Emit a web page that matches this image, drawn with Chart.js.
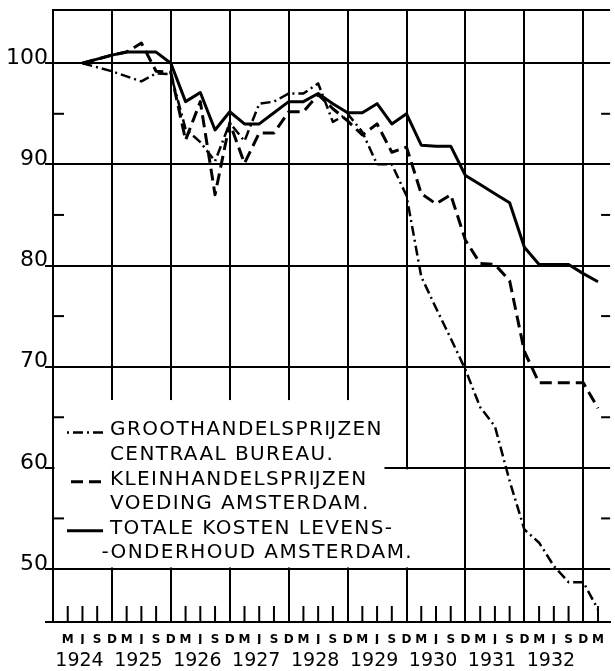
<!DOCTYPE html>
<html>
<head>
<meta charset="utf-8">
<script src="https://cdn.jsdelivr.net/npm/chart.js@4.4.1/dist/chart.umd.min.js"></script>
<style>
  html, body { margin: 0; padding: 0; background: #fff; }
</style>
</head>
<body>
<canvas id="myChart" width="615" height="671"></canvas>
<script>
// quarters from M 1924 (index 0) to M 1933 (index 36)
const quarterLabels = ['M','J','S','D','M','J','S','D','M','J','S','D','M','J','S','D',
  'M','J','S','D','M','J','S','D','M','J','S','D','M','J','S','D','M','J','S','D','M'];
const years = ['1924','1925','1926','1927','1928','1929','1930','1931','1932'];
const gridTicks = [50, 60, 70, 80, 90, 100];
const minorTicks = [55, 65, 75, 85, 95];

// values from J 1924 (quarter 1) to M 1933 (quarter 36)
const groothandel = [100, 99.6, 99.2, 98.7, 98.2, 99.0, 98.9, 93.5, 92.2, 90.3, 94.1, 92.3,
  96.0, 96.2, 97.0, 97.0, 98.0, 94.2, 95.0, 93.2, 90.0, 90.0, 86.9, 78.9,
  75.8, 72.8, 69.7, 66.0, 64.1, 58.7, 53.9, 52.6, 50.3, 48.7, 48.7, 46.0];
const kleinhandel = [100, 100.4, 100.8, 101.1, 102.0, 99.2, 99.1, 92.4, 96.2, 87.0, 94.1, 90.1,
  93.1, 93.1, 95.2, 95.2, 96.9, 95.5, 94.3, 92.9, 94.0, 91.2, 91.7, 87.1,
  86.1, 87.0, 82.5, 80.2, 80.1, 78.5, 71.5, 68.4, 68.4, 68.4, 68.4, 65.9];
const totaleKosten = [100, 100.4, 100.8, 101.1, 101.1, 101.1, 100.0, 96.2, 97.1, 93.4, 95.2, 94.0,
  94.0, 95.1, 96.2, 96.2, 97.0, 96.0, 95.1, 95.1, 96.0, 94.0, 95.0, 91.9,
  91.8, 91.8, 88.9, 88.0, 87.1, 86.2, 81.8, 80.1, 80.1, 80.1, 79.2, 78.4];

const Y_MIN = 44.76, Y_MAX = 105.24;
const X_MIN = -1, X_MAX = 36.82;
const FONT = 'DejaVu Sans';

const toPoints = arr => arr.map((v, i) => ({ x: i + 1, y: v }));

// white-out behind the legend, small ticks, legend text
const paperPlugin = {
  id: 'paper',
  beforeDatasetsDraw(chart) {
    const { ctx, chartArea: a, scales: { x, y } } = chart;
    const line = (x0, y0, x1, y1) => { ctx.beginPath(); ctx.moveTo(x0, y0); ctx.lineTo(x1, y1); ctx.stroke(); };
    ctx.save();
    ctx.fillStyle = '#fff';
    const blank = (q1, v0, v1) => {
      const top = y.getPixelForValue(v1), bot = y.getPixelForValue(v0);
      ctx.fillRect(a.left + 1.5, top, x.getPixelForValue(q1) - a.left - 1.5, bot - top);
    };
    blank(22.7, 60.15, 66.7);
    blank(26.8, 50.15, 59.85);
    blank(21.5, 59.8, 60.2);

    ctx.strokeStyle = '#000';
    ctx.lineWidth = 2;
    quarterLabels.forEach((l, i) => {
      if (l === 'D') return;
      const px = x.getPixelForValue(i);
      line(px, a.bottom, px, a.bottom - 16);
    });
    minorTicks.forEach(v => {
      const py = y.getPixelForValue(v);
      line(a.left, py, a.left + 11, py);
      line(a.right - 9, py, a.right, py);
    });

    // legend
    const gap = 24.6;
    const base = y.getPixelForValue(63.2);
    const textX = a.left + 57;
    ctx.fillStyle = '#000';
    ctx.font = '20px "' + FONT + '"';
    ctx.letterSpacing = '1.4px';
    ctx.textBaseline = 'alphabetic';
    chart.data.datasets.forEach((ds, k) => {
      const b1 = base + k * 2 * gap, b2 = b1 + gap;
      ctx.lineWidth = ds.borderWidth;
      ctx.setLineDash(ds.borderDash || []);
      ctx.lineDashOffset = 14;
      line(a.left + 14, b1 - 3, a.left + 50, b1 - 3);
      ctx.setLineDash([]);
      ctx.fillText(ds.label[0], textX, b1);
      const l2 = ds.label[1];
      const off = l2.startsWith('-') ? ctx.measureText('-').width : 0;
      ctx.fillText(l2, textX - off, b2);
    });
    ctx.restore();
  }
};

const ctx = document.getElementById('myChart').getContext('2d');

const chart = new Chart(ctx, {
  type: 'line',
  data: {
    datasets: [
      {
        label: ['GROOTHANDELSPRĲZEN', 'CENTRAAL BUREAU.'],
        data: toPoints(groothandel),
        borderColor: '#000',
        borderWidth: 2.5,
        borderDash: [10, 4, 2, 4],
        pointRadius: 0,
        tension: 0,
        borderJoinStyle: 'round'
      },
      {
        label: ['KLEINHANDELSPRĲZEN', 'VOEDING AMSTERDAM.'],
        data: toPoints(kleinhandel),
        borderColor: '#000',
        borderWidth: 3,
        borderDash: [12, 6],
        pointRadius: 0,
        tension: 0,
        borderJoinStyle: 'round'
      },
      {
        label: ['TOTALE KOSTEN LEVENS-', '-ONDERHOUD AMSTERDAM.'],
        data: toPoints(totaleKosten),
        borderColor: '#000',
        borderWidth: 3,
        pointRadius: 0,
        tension: 0,
        borderJoinStyle: 'round'
      }
    ]
  },
  options: {
    responsive: false,
    animation: false,
    layout: { padding: { top: 10, left: 0, right: 0, bottom: 0 }, autoPadding: false },
    plugins: {
      legend: { display: false },
      tooltip: { enabled: false }
    },
    scales: {
      x: {
        type: 'linear',
        position: 'bottom',
        weight: 0,
        min: X_MIN,
        max: X_MAX,
        afterBuildTicks: s => { s.ticks = quarterLabels.map((_, i) => ({ value: i })); },
        afterFit: s => { s.height = 22; },
        ticks: {
          autoSkip: false, maxRotation: 0, minRotation: 0, padding: 11,
          color: '#000',
          font: { family: FONT, size: 12, weight: 'bold' },
          callback: v => quarterLabels[v]
        },
        grid: {
          color: c => (c.tick && quarterLabels[c.tick.value] === 'D') ? '#000' : 'rgba(0,0,0,0)',
          lineWidth: 2,
          drawTicks: false
        },
        border: { display: true, color: '#000', width: 2 }
      },
      x2: {
        type: 'linear',
        position: 'bottom',
        weight: 1,
        min: X_MIN,
        max: X_MAX,
        afterBuildTicks: s => { s.ticks = years.map((_, i) => ({ value: i * 4 + 0.8 })); },
        afterFit: s => { s.height = 27; },
        ticks: {
          autoSkip: false, maxRotation: 0, minRotation: 0, padding: -2,
          color: '#000',
          font: { family: FONT, size: 19 },
          callback: (v, i) => years[i]
        },
        grid: { display: false },
        border: { display: false }
      },
      y: {
        min: Y_MIN,
        max: Y_MAX,
        afterBuildTicks: s => { s.ticks = [Y_MIN, ...gridTicks, Y_MAX].map(v => ({ value: v })); },
        afterFit: s => { s.width = 53; },
        ticks: {
          padding: -3,
          labelOffset: -5,
          color: '#000',
          font: { family: FONT, size: 22 },
          callback: v => gridTicks.includes(v) ? String(v) : ''
        },
        grid: {
          color: '#000',
          lineWidth: 2,
          drawTicks: true,
          tickLength: 8,
          tickWidth: 2,
          tickColor: c => (c.tick && c.tick.value === Y_MAX) ? 'rgba(0,0,0,0)' : '#000'
        },
        border: { display: true, color: '#000', width: 2 }
      }
    }
  },
  plugins: [paperPlugin]
});
</script>
</body>
</html>
